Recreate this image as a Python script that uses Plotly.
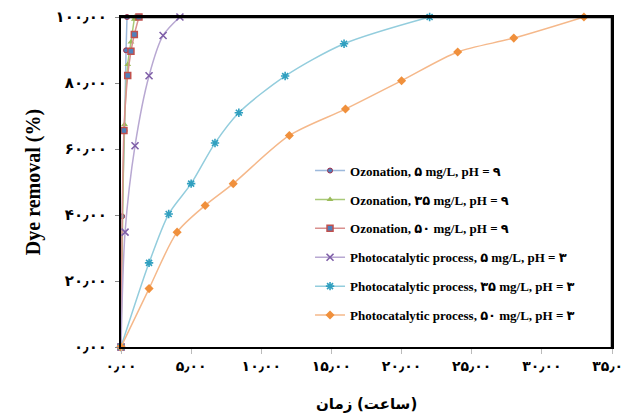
import plotly.graph_objects as go

# ---- data (time in hours, removal in %) ----
oz5_x = [0, 0.08, 0.25, 0.36, 0.43]
oz5_y = [0, 39.6, 65.5, 89.9, 100]

oz35_x = [0, 0.25, 0.48, 0.71, 0.95, 1.0]
oz35_y = [0, 67.4, 85.6, 92.4, 99.3, 100]

oz50_x = [0, 0.21, 0.48, 0.71, 0.95, 1.28]
oz50_y = [0, 65.6, 82.3, 89.6, 94.7, 100]

pc5_x = [0, 0.29, 1.0, 2.0, 3.0, 4.2]
pc5_y = [0, 34.8, 61.0, 82.2, 94.4, 100]

pc35_x = [0, 2.0, 3.4, 5.0, 6.7, 8.4, 11.7, 15.9, 22.0]
pc35_y = [0, 25.5, 40.3, 49.5, 61.8, 71.0, 82.1, 91.9, 100]

pc50_x = [0, 2.0, 4.0, 6.0, 8.0, 12.0, 16.0, 20.0, 24.0, 28.0, 33.0]
pc50_y = [0, 17.7, 34.8, 42.9, 49.5, 64.1, 72.1, 80.7, 89.4, 93.6, 100]

series_names = [
    "Ozonation, ۵ mg/L, pH = ۹",
    "Ozonation, ۳۵ mg/L, pH = ۹",
    "Ozonation, ۵۰ mg/L, pH = ۹",
    "Photocatalytic process, ۵ mg/L, pH = ۳",
    "Photocatalytic process, ۳۵ mg/L, pH = ۳",
    "Photocatalytic process, ۵۰ mg/L, pH = ۳",
]

x_tickvals = [0, 5, 10, 15, 20, 25, 30, 35]
x_ticktext = ["۰٫۰۰", "۵٫۰۰", "۱۰٫۰۰", "۱۵٫۰۰", "۲۰٫۰۰", "۲۵٫۰۰", "۳۰٫۰۰", "۳۵٫۰۰"]
y_tickvals = [0, 20, 40, 60, 80, 100]
y_ticktext = ["۰٫۰۰", "۲۰٫۰۰", "۴۰٫۰۰", "۶۰٫۰۰", "۸۰٫۰۰", "۱۰۰٫۰۰"]

x_title_words = ["زمان", "(ساعت)"]
y_title = "Dye removal (%)"

styles = [
    dict(line="#9DB9DC", marker=dict(symbol="circle", size=5, color="#4F81BD",
                                     line=dict(color="#A0304D", width=1))),
    dict(line="#A9C978", marker=dict(symbol="triangle-up", size=6, color="#9BBB59")),
    dict(line="#D9908E", marker=dict(symbol="square", size=6, color="#4F81BD",
                                     line=dict(color="#C0504D", width=1.5))),
    dict(line="#B8A8D2", marker=dict(symbol="x-thin-open", size=7, color="#7F5FA8",
                                     line=dict(color="#7F5FA8", width=1.6))),
    dict(line="#93CDDD", marker=dict(symbol="asterisk-open", size=7, color="#31A0C0",
                                     line=dict(color="#31A0C0", width=1.6))),
    dict(line="#F5B88A", marker=dict(symbol="diamond", size=7, color="#F0903C")),
]

data = [(oz5_x, oz5_y), (oz35_x, oz35_y), (oz50_x, oz50_y),
        (pc5_x, pc5_y), (pc35_x, pc35_y), (pc50_x, pc50_y)]

fig = go.Figure()
for i, ((xs, ys), name, st) in enumerate(zip(data, series_names, styles)):
    fig.add_trace(go.Scatter(
        x=xs, y=ys, name=name, mode="lines+markers",
        line=dict(color=st["line"], width=1.5, shape="spline", smoothing=0.8),
        marker=st["marker"], cliponaxis=False, legendgroup=f"g{i}",
    ))

serif = "Liberation Serif, Times New Roman, DejaVu Sans, serif"
arabic = "DejaVu Sans"

# plot-area frame (top and right sides; left and bottom are the axis lines)
fig.add_shape(type="line", xref="paper", yref="paper", x0=0, y0=1, x1=1, y1=1,
              line=dict(color="#000000", width=2.5), layer="above")
fig.add_shape(type="line", xref="paper", yref="paper", x0=1, y0=0, x1=1, y1=1,
              line=dict(color="#000000", width=2.5), layer="above")

# x-axis title, written as two words so the right-to-left word order is kept
fig.add_annotation(text=x_title_words[0], xref="paper", yref="paper",
                   x=0.474, y=-0.173, xanchor="right", yanchor="middle",
                   showarrow=False, font=dict(family=arabic, size=15, weight="bold"))
fig.add_annotation(text=x_title_words[1], xref="paper", yref="paper",
                   x=0.477, y=-0.173, xanchor="left", yanchor="middle",
                   showarrow=False, font=dict(family=arabic, size=15, weight="bold"))

# the page body adds an 8px margin, so the figure is 8px smaller and shifted
fig.update_layout(
    width=621, height=406,
    paper_bgcolor="white", plot_bgcolor="white",
    margin=dict(l=113, r=17, t=9, b=67),
    font=dict(family=serif, color="black"),
    showlegend=True,
    legend=dict(x=0.385, y=0.58, xanchor="left", yanchor="top",
                bgcolor="rgba(0,0,0,0)", borderwidth=0,
                font=dict(family=serif, size=13, color="black", weight="bold"),
                tracegroupgap=9, itemwidth=30),
    xaxis=dict(range=[0, 35], tickvals=x_tickvals, ticktext=x_ticktext,
               showgrid=False, zeroline=False, automargin=False,
               showline=True, linecolor="black", linewidth=2, mirror=True,
               ticks="outside", ticklen=5, tickcolor="#BBBBBB",
               ticklabeloverflow="allow",
               tickfont=dict(family=arabic, size=14, weight="bold")),
    yaxis=dict(range=[0, 100], tickvals=y_tickvals, ticktext=y_ticktext,
               showgrid=False, zeroline=False, automargin=False,
               showline=True, linecolor="black", linewidth=2, mirror=True,
               ticks="outside", ticklen=4, tickcolor="#888888",
               ticklabelstandoff=5, ticklabeloverflow="allow",
               tickfont=dict(family=arabic, size=15, weight="bold"),
               title=dict(text=y_title, standoff=10,
                          font=dict(family=serif, size=20, weight="bold"))),
)

fig.write_html("out.html")
